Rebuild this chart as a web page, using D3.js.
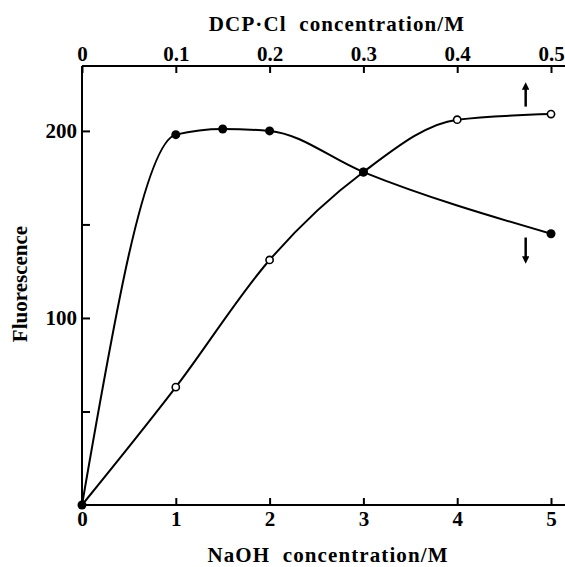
<!DOCTYPE html>
<html>
<head>
<meta charset="utf-8">
<script src="https://cdn.jsdelivr.net/npm/d3@7"></script>
<style>
  body { margin: 0; background: #fff; }
  svg text { font-family: "Liberation Serif", "DejaVu Serif", serif; font-weight: bold; fill: #000; }
</style>
</head>
<body>
<div id="content"></div>
<script>
// open circles: fluorescence vs NaOH concentration (bottom axis)
var naohConc = [0, 1, 2, 3, 4, 5];
var naohFluor = [0, 63, 131, 178, 206, 209];

// filled circles: fluorescence vs DCP·Cl concentration (top axis)
var dcpConc = [0, 0.1, 0.15, 0.2, 0.3, 0.5];
var dcpFluor = [0, 198, 201, 200, 178, 145];

var naohTicks = [0, 1, 2, 3, 4, 5];
var dcpTicks = [0, 0.1, 0.2, 0.3, 0.4, 0.5];
var dcpTickLabels = ["0", "0.1", "0.2", "0.3", "0.4", "0.5"];
var fluorTicks = [50, 100, 150, 200];
var fluorTickLabels = { 100: "100", 200: "200" };

var width = 565;
var height = 567;

var svg = d3.select("#content").append("svg")
    .attr("width", width)
    .attr("height", height);

var x = d3.scaleLinear().domain([0, 5]).range([82, 551]);
var xTop = d3.scaleLinear().domain([0, 0.5]).range([82, 551]);
var y = d3.scaleLinear().domain([0, 234.7]).range([505, 66]);

// frame lines
svg.append("line")
    .attr("x1", x(0)).attr("x2", x(5.15))
    .attr("y1", y(0)).attr("y2", y(0))
    .attr("stroke", "#000").attr("stroke-width", 2);
svg.append("line")
    .attr("x1", x(0)).attr("x2", x(5.15))
    .attr("y1", y(234.7)).attr("y2", y(234.7))
    .attr("stroke", "#000").attr("stroke-width", 2);
svg.append("line")
    .attr("x1", x(0)).attr("x2", x(0))
    .attr("y1", y(0)).attr("y2", y(234.7))
    .attr("stroke", "#000").attr("stroke-width", 2);

var bottomAxis = svg.append("g")
    .attr("transform", `translate(0, ${y(0)})`)
    .call(d3.axisBottom(x).tickValues(naohTicks).tickSizeInner(-7).tickSizeOuter(0).tickPadding(6).tickFormat(d3.format("d")));

var topAxis = svg.append("g")
    .attr("transform", `translate(0, ${y(234.7)})`)
    .call(d3.axisTop(xTop).tickValues(dcpTicks).tickSizeInner(-7).tickSizeOuter(0).tickPadding(5)
        .tickFormat(function (d, i) { return dcpTickLabels[i]; }));

var leftAxis = svg.append("g")
    .attr("transform", `translate(${x(0)}, 0)`)
    .call(d3.axisLeft(y).tickValues(fluorTicks).tickSizeInner(-8).tickSizeOuter(0).tickPadding(5)
        .tickFormat(function (d) { return fluorTickLabels[d] || ""; }));

[bottomAxis, topAxis, leftAxis].forEach(function (a) {
    a.select(".domain").remove();
    a.selectAll(".tick line").attr("stroke", "#000").attr("stroke-width", 2);
    a.selectAll(".tick text").style("font-size", "21px").style("font-family", "'Liberation Serif', serif").style("font-weight", "bold");
});

// axis titles
svg.append("text")
    .attr("x", 337).attr("y", 31)
    .style("text-anchor", "middle").style("font-size", "21px").style("letter-spacing", "1.1px")
    .style("white-space", "pre")
    .text("DCP·Cl  concentration/M");

svg.append("text")
    .attr("x", 328).attr("y", 562)
    .style("text-anchor", "middle").style("font-size", "21px").style("letter-spacing", "1.1px")
    .style("white-space", "pre")
    .text("NaOH  concentration/M");

svg.append("text")
    .attr("transform", "rotate(-90)")
    .attr("x", -284).attr("y", 27)
    .style("text-anchor", "middle").style("font-size", "21px")
    .text("Fluorescence");

// curves
var naohPts = naohConc.map(function (c, i) { return [x(c), y(naohFluor[i])]; });
var dcpPts = dcpConc.map(function (c, i) { return [xTop(c), y(dcpFluor[i])]; });

var line = d3.line().curve(d3.curveMonotoneX);

svg.append("path").attr("d", line(naohPts))
    .attr("fill", "none").attr("stroke", "#000").attr("stroke-width", 2);
svg.append("path").attr("d", line(dcpPts))
    .attr("fill", "none").attr("stroke", "#000").attr("stroke-width", 2);

svg.selectAll(".open")
    .data(naohPts.slice(1))
    .enter().append("circle")
    .attr("cx", function (d) { return d[0]; })
    .attr("cy", function (d) { return d[1]; })
    .attr("r", 3.6)
    .attr("fill", "#fff").attr("stroke", "#000").attr("stroke-width", 1.6);

svg.selectAll(".filled")
    .data(dcpPts)
    .enter().append("circle")
    .attr("cx", function (d) { return d[0]; })
    .attr("cy", function (d) { return d[1]; })
    .attr("r", 4.5)
    .attr("fill", "#000");

// arrows indicating which axis each curve belongs to
var defs = svg.append("defs");
defs.append("marker")
    .attr("id", "head")
    .attr("viewBox", "0 0 10 10")
    .attr("refX", 5).attr("refY", 5)
    .attr("markerWidth", 3).attr("markerHeight", 3)
    .attr("orient", "auto")
    .append("path").attr("d", "M0,0L10,5L0,10Z").attr("fill", "#000");

svg.append("line")
    .attr("x1", x(4.73)).attr("x2", x(4.73))
    .attr("y1", y(213)).attr("y2", y(224))
    .attr("stroke", "#000").attr("stroke-width", 2.5)
    .attr("marker-end", "url(#head)");

svg.append("line")
    .attr("x1", x(4.73)).attr("x2", x(4.73))
    .attr("y1", y(143)).attr("y2", y(131))
    .attr("stroke", "#000").attr("stroke-width", 2.5)
    .attr("marker-end", "url(#head)");
</script>
</body>
</html>
